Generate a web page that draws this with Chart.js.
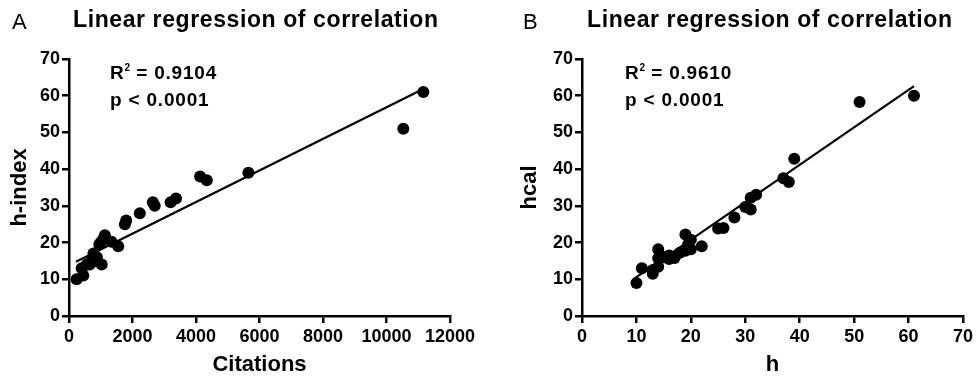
<!DOCTYPE html>
<html><head><meta charset="utf-8">
<script src="https://cdn.jsdelivr.net/npm/chart.js@4"></script>
<style>
html,body{margin:0;padding:0;background:#fff;}
#wrap{position:relative;width:976px;height:378px;overflow:hidden;font-family:"Liberation Sans",Arial,sans-serif;color:#000;}
canvas{position:absolute;top:0;}
.lbl{position:absolute;font-size:22px;line-height:1;}
.ttl{position:absolute;font-weight:bold;font-size:23px;letter-spacing:0.6px;line-height:1;white-space:nowrap;}
.ann{position:absolute;font-weight:bold;font-size:19px;letter-spacing:0.8px;white-space:nowrap;line-height:1;}
.ann sup{font-size:10px;vertical-align:0;position:relative;top:-8px;letter-spacing:0;}
</style>
</head><body>
<div id="wrap">
  <canvas id="cA" width="488" height="378" style="left:0"></canvas>
  <canvas id="cB" width="488" height="378" style="left:488px"></canvas>
  <div class="lbl" style="left:12px;top:11px">A</div>
  <div class="ttl" style="left:73px;top:8px">Linear regression of correlation</div>
  <div class="ann" style="left:110px;top:63px">R<sup>2</sup> = 0.9104</div>
  <div class="ann" style="left:110px;top:90px">p &lt; 0.0001</div>
  <div class="lbl" style="left:523px;top:11px">B</div>
  <div class="ttl" style="left:587px;top:8px">Linear regression of correlation</div>
  <div class="ann" style="left:625px;top:63px">R<sup>2</sup> = 0.9610</div>
  <div class="ann" style="left:625px;top:90px">p &lt; 0.0001</div>
</div>
<script>
// Panel A: Citations vs h-index
const citations = [240, 400, 450, 560, 650, 700, 770, 820, 880, 955, 1000, 1030, 1080, 1130, 1340, 1550, 1760, 1800, 2230, 2640, 2700, 3200, 3370, 4130, 4340, 5650, 10530, 11160];
const hIndex    = [10, 13, 11, 14, 14, 15, 17, 15, 16, 19.5, 20, 14, 21, 22, 20.2, 19, 25, 26, 28, 31, 30, 31, 32, 38, 37, 39, 51, 61];
const regAx = [220, 11110];
const regAy = [14.8, 61.6];
const xTicksA = [0, 2000, 4000, 6000, 8000, 10000, 12000];

// Panel B: h vs hcal
const hVals  = [10, 11, 13, 13, 14, 14, 14, 15, 16, 16, 17, 18, 19, 19, 19.5, 20, 20, 22, 25, 26, 28, 30, 31, 31, 32, 37, 38, 39, 51, 61];
const hcal   = [9, 13, 11.5, 12.5, 18.2, 13.4, 15.7, 16, 16.5, 15.5, 15.8, 17.2, 17.8, 22.2, 19.5, 18.2, 20.8, 19, 23.8, 24, 26.8, 29.7, 32.2, 29, 33, 37.5, 36.5, 42.8, 58.3, 60];
const regBx = [9.6, 61];
const regBy = [10.2, 62.6];
const xTicksB = [0, 10, 20, 30, 40, 50, 60, 70];
const yTicks = [0, 10, 20, 30, 40, 50, 60, 70];

const FAM = '"Liberation Sans", Arial, sans-serif';

function pts(xs, ys){ return xs.map((x,i)=>({x:x, y:ys[i]})); }

function makeChart(id, xs, ys, rx, ry, xTicks, yTicksArr, xTitle, yTitle, yWidth, yTitlePad, rightPad){
  const tickFont = {family:FAM, size:18, weight:'bold'};
  const titleFont = {family:FAM, size:22, weight:'bold'};
  const grid = {drawOnChartArea:false, drawTicks:true, tickLength:7, color:'#000', lineWidth:2.5};
  const border = {display:true, color:'#000', width:2.5};
  new Chart(document.getElementById(id), {
    type:'scatter',
    data:{datasets:[
      {data:pts(xs,ys), backgroundColor:'#000', borderWidth:0, pointRadius:6, pointHoverRadius:6, order:2},
      {data:pts(rx,ry), type:'line', showLine:true, borderColor:'#000', borderWidth:2.2, pointRadius:0, fill:false, order:1}
    ]},
    options:{
      responsive:false, animation:false, devicePixelRatio:1,
      layout:{padding:{top:59, right:rightPad, bottom:0, left:0}},
      plugins:{legend:{display:false}, tooltip:{enabled:false}, title:{display:false}},
      scales:{
        x:{type:'linear', min:xTicks[0], max:xTicks[xTicks.length-1],
          afterBuildTicks(s){ s.ticks = xTicks.map(v=>({value:v})); },
          ticks:{color:'#000', font:tickFont, padding:3, maxRotation:0, autoSkip:false, callback:v=>String(v)},
          grid:grid, border:border,
          title:{display:true, text:xTitle, color:'#000', font:titleFont, padding:{top:0,bottom:0}},
          afterFit(s){ s.height = 62; s.paddingLeft = 0; s.paddingRight = 0; }
        },
        y:{type:'linear', min:0, max:70,
          afterBuildTicks(s){ s.ticks = yTicksArr.map(v=>({value:v})); },
          ticks:{color:'#000', font:tickFont, padding:2, autoSkip:false, callback:v=>String(v)},
          grid:grid, border:border,
          title:{display:true, text:yTitle, color:'#000', font:titleFont, padding:{top:yTitlePad,bottom:0}},
          afterFit(s){ s.width = yWidth; s.paddingTop = 0; s.paddingBottom = 0; }
        }
      }
    }
  });
}

makeChart('cA', citations, hIndex, regAx, regAy, xTicksA, yTicks, 'Citations', 'h-index', 69, 7, 38);
makeChart('cB', hVals, hcal, regBx, regBy, xTicksB, yTicks, 'h', 'hcal', 94, 29, 13);
</script>
</body></html>
